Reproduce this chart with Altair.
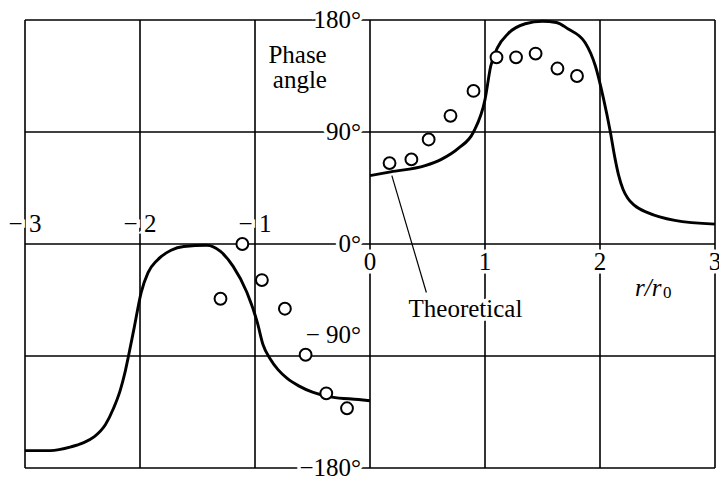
import altair as alt
import pandas as pd

# Theoretical phase angle (degrees) versus r/r0, two branches
left_r = [-3.0, -2.78, -2.60, -2.50, -2.40, -2.30, -2.23, -2.17, -2.13, -2.10, -2.05,
          -1.99, -1.93, -1.85, -1.73, -1.62, -1.42, -1.30, -1.19, -1.07, -0.98, -0.93,
          -0.87, -0.80, -0.72, -0.62, -0.50, -0.33, -0.10, 0.0]
left_phase = [-166, -166, -163, -160, -155, -145, -132, -117, -103, -90, -67,
              -39, -23, -13, -5, -2, -1, -6, -18, -39, -63, -81,
              -92, -101, -108, -114, -119, -123, -125, -126]
right_r = [0.0, 0.18, 0.48, 0.62, 0.77, 0.90, 1.00, 1.05, 1.11, 1.20, 1.35,
           1.50, 1.62, 1.72, 1.87, 1.96, 2.03, 2.09, 2.13, 2.16, 2.20, 2.24,
           2.30, 2.42, 2.65, 3.0]
right_phase = [55, 58, 63, 68, 77, 90, 116, 143, 158, 169, 177,
               179, 178, 173, 162, 143, 117, 90, 69, 56, 44, 37,
               31, 25, 19, 16]

# Measured phase angles
meas_left_r = [-1.30, -1.11, -0.94, -0.74, -0.56, -0.38, -0.20]
meas_left_phase = [-44, 0, -29, -52, -89, -120, -132]
meas_right_r = [0.17, 0.36, 0.51, 0.70, 0.90, 1.10, 1.27, 1.44, 1.63, 1.80]
meas_right_phase = [65, 68, 84, 103, 123, 150, 150, 153, 141, 135]

# Grid and tick labels
grid_x = [-3, -2, -1, 0, 1, 2, 3]
grid_y = [-180, -90, 0, 90, 180]
x_ticks_neg = [-3, -2, -1]
x_labels_neg = ["− 3", "− 2", "− 1"]
x_ticks_pos = [0, 1, 2, 3]
x_labels_pos = ["0", "1", "2", "3"]
y_ticks = [180, 90, 0, -180]
y_labels = ["180°", "90°", "0°", "−180°"]
y_ticks_low = [-90]
y_labels_low = ["− 90°"]

FONT = "Liberation Serif"
FS = 25

xs = alt.Scale(domain=[-3, 3], nice=False, zero=False)
ys = alt.Scale(domain=[-180, 180], nice=False, zero=False)


def X(field="x"):
    return alt.X(f"{field}:Q", scale=xs, axis=None)


def Y(field="y"):
    return alt.Y(f"{field}:Q", scale=ys, axis=None)


def text_layer(df, dx=0, dy=0, align="center", size=FS, italic=False, halo=True):
    base = alt.Chart(df).encode(x=X(), y=Y(), text="t:N")
    style = dict(font=FONT, fontSize=size, align=align, baseline="middle", dx=dx, dy=dy)
    if italic:
        style["fontStyle"] = "italic"
    ink = base.mark_text(color="black", **style)
    if not halo:
        return ink
    back = base.mark_text(color="white", stroke="white", strokeWidth=7, **style)
    return back + ink


vgrid = alt.Chart(pd.DataFrame({"x": grid_x})).mark_rule(
    color="black", strokeWidth=1.6).encode(x=X())
hgrid = alt.Chart(pd.DataFrame({"y": grid_y})).mark_rule(
    color="black", strokeWidth=1.6).encode(y=Y())

curve_df = pd.DataFrame({
    "x": left_r + right_r,
    "y": left_phase + right_phase,
    "branch": ["left"] * len(left_r) + ["right"] * len(right_r),
})
curve = alt.Chart(curve_df).mark_line(
    color="black", strokeWidth=2.9, interpolate="monotone"
).encode(x=X(), y=Y(), detail="branch:N")

meas_df = pd.DataFrame({
    "x": meas_left_r + meas_right_r,
    "y": meas_left_phase + meas_right_phase,
})
points = alt.Chart(meas_df).mark_point(
    shape="circle", filled=True, fill="white", stroke="black",
    strokeWidth=2, size=140, opacity=1
).encode(x=X(), y=Y())

# Leader line from the curve to its label
pointer_df = pd.DataFrame({"x": [0.19], "y": [55], "x2": [0.49], "y2": [-39]})
pointer = alt.Chart(pointer_df).mark_rule(color="black", strokeWidth=1.2).encode(
    x=X(), y=Y(), x2="x2:Q", y2="y2:Q")

xlab_neg = text_layer(pd.DataFrame({"x": x_ticks_neg, "y": [0] * 3, "t": x_labels_neg}), dy=-20)
xlab_pos = text_layer(pd.DataFrame({"x": x_ticks_pos, "y": [0] * 4, "t": x_labels_pos}), dy=18)
ylab = text_layer(pd.DataFrame({"x": [0] * 4, "y": y_ticks, "t": y_labels}), dx=-9, align="right")
ylab_low = text_layer(pd.DataFrame({"x": [0], "y": y_ticks_low, "t": y_labels_low}),
                      dx=-9, dy=-21, align="right")

phase_title = text_layer(pd.DataFrame({"x": [-0.63, -0.61], "y": [152, 132],
                                       "t": ["Phase", "angle"]}), halo=False)
theo_label = text_layer(pd.DataFrame({"x": [0.83], "y": [-52], "t": ["Theoretical"]}))
r_label = text_layer(pd.DataFrame({"x": [2.42], "y": [-35], "t": ["r/r"]}),
                     italic=True, halo=False)
r_sub = text_layer(pd.DataFrame({"x": [2.54], "y": [-39], "t": ["0"]}),
                   size=17, align="left", dx=1, halo=False)

chart = alt.layer(
    vgrid, hgrid, curve, pointer,
    xlab_neg, xlab_pos, ylab, ylab_low,
    phase_title, theo_label, r_label, r_sub,
    points,
).properties(
    width=690, height=448,
    padding={"left": 25, "top": 20, "right": 4, "bottom": 14},
    autosize="none",
    background="white",
).configure_view(stroke=None)

chart.save("out.html", embed_options={"renderer": "svg", "actions": False})
